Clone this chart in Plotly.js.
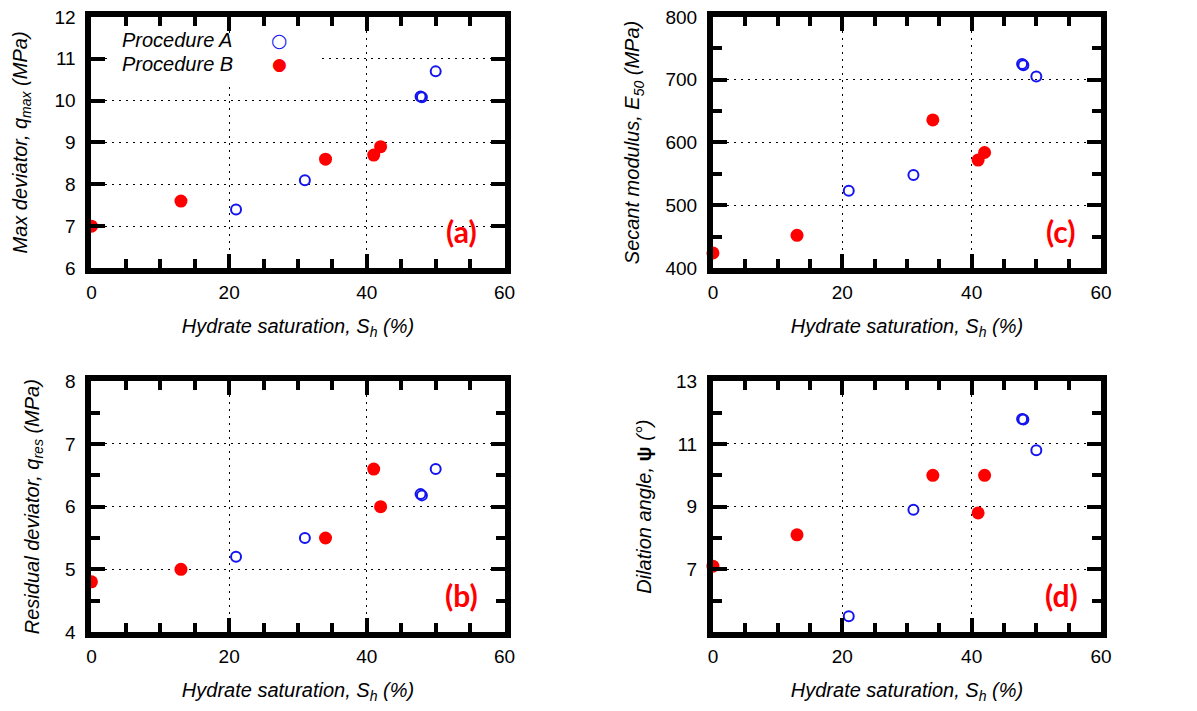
<!DOCTYPE html>
<html>
<head>
<meta charset="utf-8">
<script src="https://cdn.plot.ly/plotly-3.0.1.min.js"></script>
<style>html,body{margin:0;padding:0;background:#fff;}#chart{width:1197px;height:711px;}</style>
</head>
<body>
<div id="chart"></div>
<script>
// ---- data ----
const shA = [21, 31, 47.8, 48.0, 50];
const shB = [0, 13, 34, 41, 42];
const qmaxA = [7.4, 8.1, 10.1, 10.08, 10.7];
const qmaxB = [7.0, 7.6, 8.6, 8.7, 8.9];
const qresA = [5.2, 5.5, 6.2, 6.18, 6.6];
const qresB = [4.8, 5.0, 5.5, 6.6, 6.0];
const e50A = [523, 548, 725, 723, 705];
const e50B = [424, 452, 636, 572, 584];
const psiA = [5.5, 8.9, 11.8, 11.78, 10.8];
const psiB = [7.1, 8.1, 10.0, 8.8, 10.0];
const legendNames = ['Procedure A', 'Procedure B'];
const panelLabels = ['(a)', '(c)', '(b)', '(d)'];
const xTitle = '<i>Hydrate saturation, S<sub>h</sub> (%)</i>';
const yTitles = [
  '<i>Max deviator, q<sub>max</sub> (MPa)</i>',
  '<i>Secant modulus, E<sub>50</sub> (MPa)</i>',
  '<i>Residual deviator, q<sub>res</sub> (MPa)</i>',
  '<i>Dilation angle, </i><b>ψ</b><i> (°)</i>'
];

const blue = 'rgb(20,20,240)';
const red = 'rgb(255,0,0)';

function ptsA(y, xa, ya) {
  return {x: shA, y: y, xaxis: xa, yaxis: ya, type: 'scatter', mode: 'markers', showlegend: false,
    name: legendNames[0], cliponaxis: false,
    marker: {symbol: 'circle-open', size: 10, color: blue, line: {width: 2, color: blue}}};
}
function ptsB(y, xa, ya) {
  return {x: shB, y: y, xaxis: xa, yaxis: ya, type: 'scatter', mode: 'markers', showlegend: false,
    name: legendNames[1], cliponaxis: false,
    marker: {symbol: 'circle', size: 13, color: red, line: {width: 0}}};
}

const traces = [
  ptsA(qmaxA, 'x', 'y'), ptsB(qmaxB, 'x', 'y'),
  ptsA(e50A, 'x2', 'y2'), ptsB(e50B, 'x2', 'y2'),
  ptsA(qresA, 'x3', 'y3'), ptsB(qresB, 'x3', 'y3'),
  ptsA(psiA, 'x4', 'y4'), ptsB(psiB, 'x4', 'y4')
];

const tickFont = {family: 'Liberation Sans, Arial, sans-serif', size: 19, color: '#000'};
const titleFont = {family: 'Liberation Sans, Arial, sans-serif', size: 20, color: '#000'};

function minorTicks(dt, t0) {
  return {ticks: 'inside', ticklen: 9, tickwidth: 4, tickcolor: 'black', dtick: dt, tick0: t0, showgrid: false};
}

function base(extra) {
  return Object.assign({
    showline: true, linewidth: 6, linecolor: 'black', mirror: 'ticks',
    ticks: 'inside', ticklen: 14, tickwidth: 4, tickcolor: 'black',
    showgrid: true, gridcolor: 'black', gridwidth: 1, griddash: '2px,5px',
    zeroline: false, automargin: false,
    tickfont: tickFont
  }, extra);
}

function xax(domain, anchor) {
  return base({domain: domain, anchor: anchor, range: [0, 60], tick0: 0, dtick: 20,
    ticklabelstandoff: 2,
    minor: minorTicks(5, 0),
    title: {text: xTitle, font: titleFont, standoff: 19}});
}

const dxL = [0.0764, 0.4215], dxR = [0.5956, 0.9198];
const dyT = [0.6231, 0.9761], dyB = [0.1111, 0.4637];

const layout = {
  width: 1197, height: 711,
  margin: {l: 0, r: 0, t: 0, b: 0},
  paper_bgcolor: '#fff', plot_bgcolor: '#fff',
  showlegend: false,
  xaxis: xax(dxL, 'y'),
  xaxis2: xax(dxR, 'y2'),
  xaxis3: xax(dxL, 'y3'),
  xaxis4: xax(dxR, 'y4'),
  yaxis: base({domain: dyT, anchor: 'x', range: [6, 12], tick0: 6, dtick: 1, ticklabelstandoff: 6,
    title: {text: yTitles[0], font: titleFont, standoff: 24}}),
  yaxis2: base({domain: dyT, anchor: 'x2', range: [400, 800], tick0: 400, dtick: 100, ticklabelstandoff: 6,
    minor: minorTicks(50, 400),
    title: {text: yTitles[1], font: titleFont, standoff: 22}}),
  yaxis3: base({domain: dyB, anchor: 'x3', range: [4, 8], tick0: 4, dtick: 1, ticklabelstandoff: 6,
    minor: minorTicks(0.5, 4),
    title: {text: yTitles[2], font: titleFont, standoff: 22}}),
  yaxis4: base({domain: dyB, anchor: 'x4', range: [5, 13], tickmode: 'array', tickvals: [7, 9, 11, 13], ticklabelstandoff: 6,
    minor: minorTicks(1, 5),
    title: {text: yTitles[3], font: titleFont, standoff: 21}}),
  annotations: []
};

// white background of the key in panel (a) (hides the grid behind it)
layout.annotations.push({text: ' ', xref: 'x domain', yref: 'y domain', x: 0.295, y: 0.835,
  xanchor: 'center', yanchor: 'middle', showarrow: false, width: 205, height: 46,
  bgcolor: '#fff', borderwidth: 0, font: {size: 2}});

// panel labels
const axPairs = [['x', 'y'], ['x2', 'y2'], ['x3', 'y3'], ['x4', 'y4']];
axPairs.forEach((p, i) => {
  layout.annotations.push({text: '<b>' + panelLabels[i] + '</b>', xref: p[0] + ' domain', yref: p[1] + ' domain',
    x: 0.897, y: 0.147, xanchor: 'center', yanchor: 'middle', showarrow: false,
    font: {family: 'Lato, Open Sans, sans-serif', size: 30, color: red}});
});

// key for panel (a): text followed by the symbol, as in the reference
layout.annotations.push(
  {text: '<i>' + legendNames[0] + '</i>', xref: 'x domain', yref: 'y domain', x: 0.208, y: 0.907,
   xanchor: 'center', yanchor: 'middle', showarrow: false, font: titleFont},
  {text: '<i>' + legendNames[1] + '</i>', xref: 'x domain', yref: 'y domain', x: 0.208, y: 0.813,
   xanchor: 'center', yanchor: 'middle', showarrow: false, font: titleFont},
  {text: '○', xref: 'x domain', yref: 'y domain', x: 0.456, y: 0.907,
   xanchor: 'center', yanchor: 'middle', showarrow: false,
   font: {family: 'DejaVu Sans', size: 19, color: blue}},
  {text: '●', xref: 'x domain', yref: 'y domain', x: 0.456, y: 0.813,
   xanchor: 'center', yanchor: 'middle', showarrow: false,
   font: {family: 'DejaVu Sans', size: 17, color: red}}
);

Plotly.newPlot('chart', traces, layout, {displayModeBar: false});
</script>
</body>
</html>
